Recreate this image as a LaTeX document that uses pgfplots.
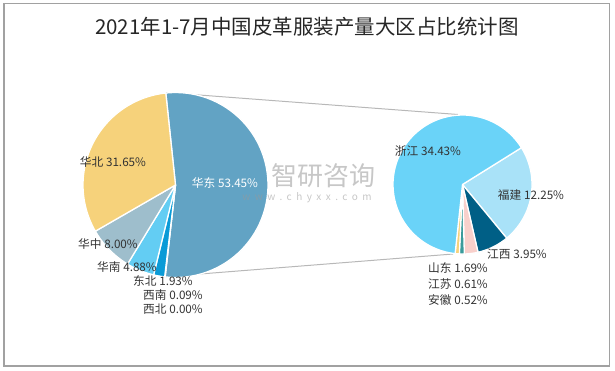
\documentclass[border=0pt]{standalone}
\usepackage{fontspec}
\setmainfont{Noto Sans CJK SC}
\usepackage{pgfplots}
\usepackage{pgfplotstable}
\pgfplotsset{compat=1.18}

\definecolor{cHD}{HTML}{62A3C4}
\definecolor{cXB}{HTML}{1F5F8B}
\definecolor{cXN}{HTML}{1F5F8B}
\definecolor{cDB}{HTML}{0A9BD7}
\definecolor{cHN}{HTML}{63CDF3}
\definecolor{cHZ}{HTML}{9EBECC}
\definecolor{cHB}{HTML}{F6D27B}
\definecolor{cZJ}{HTML}{6AD3F8}
\definecolor{cFJ}{HTML}{A9E2F8}
\definecolor{cJX}{HTML}{005F86}
\definecolor{cSD}{HTML}{F8D0CB}
\definecolor{cJS}{HTML}{3A9B9B}
\definecolor{cAH}{HTML}{F6D27B}
\definecolor{txt}{HTML}{333333}

% left pie: share of each region (clockwise from 华东)
\pgfplotstableread{
pct col
53.45 cHD
0.00 cXB
0.09 cXN
1.93 cDB
4.88 cHN
8.00 cHZ
31.65 cHB
}\leftdata

% right pie: provinces of 华东 (clockwise from 福建)
\pgfplotstableread{
pct col
12.25 cFJ
3.95 cJX
1.69 cSD
0.61 cJS
0.52 cAH
34.43 cZJ
}\rightdata

% #1 table, #2 cx, #3 cy, #4 r, #5 start angle (clockwise from top), #6 total, #7 output macro
\newcommand\buildpie[7]{%
  \gdef\piecmds{}%
  \xdef\cum{#5}%
  \pgfplotstablegetrowsof{#1}%
  \pgfmathtruncatemacro\lastrow{\pgfplotsretval-1}%
  \foreach \i in {0,...,\lastrow}{%
    \pgfplotstablegetelem{\i}{pct}\of{#1}\let\pv\pgfplotsretval
    \pgfplotstablegetelem{\i}{col}\of{#1}\let\cv\pgfplotsretval
    \pgfmathsetmacro\span{\pv/#6*360}%
    \pgfmathsetmacro\aa{\cum-90}%
    \pgfmathsetmacro\bb{\cum-90+\span}%
    \pgfmathsetmacro\newcum{\cum+\span}%
    \xdef\cum{\newcum}%
    \ifdim\pv pt>0.001pt
      \xdef\piecmds{\unexpanded\expandafter{\piecmds}\noexpand\filldraw[fill=\cv,draw=white,line width=1.3pt,line join=round] (#2,#3) -- plot[domain=\aa:\bb,samples=60,variable=\noexpand\t] ({#2+#4*cos(\noexpand\t)},{#3+#4*sin(\noexpand\t)}) -- cycle;}%
    \fi
  }%
  \global\let#7\piecmds
}

\begin{document}
\begin{tikzpicture}
\buildpie{\leftdata}{175.5}{185}{92.5}{-6}{100}{\leftpie}
\buildpie{\rightdata}{462.5}{184.5}{69.5}{58}{53.45}{\rightpie}
\begin{axis}[
  x=1pt, y=1pt, xmin=0, xmax=615, ymin=0, ymax=370,
  y dir=reverse, hide axis, clip=false, scale only axis,
]
\path (0,0) rectangle (615,370);
\draw[color=black!37, line width=1.5pt] (4,3.5) rectangle (609.5,366);
\node[color=black!85, font=\fontsize{20.5}{22}\selectfont] at (307,27) {2021年1-7月中国皮革服装产量大区占比统计图};
% connector lines
\draw[color=black!28, line width=1pt] (166,92.5) -- (458,114.5);
\draw[color=black!28, line width=1pt] (162,277) -- (453,254);
\leftpie
\rightpie
% watermark
\node[color=black!40, opacity=0.55, font=\fontsize{26}{28}\selectfont] at (323,176) {智研咨询};
\node[color=black!40, opacity=0.55, font=\fontsize{10}{12}\selectfont\addfontfeature{LetterSpace=45}] at (307,198) {www.chyxx.com};
% labels
\begin{scope}[every node/.style={color=txt, font=\fontsize{11.7}{13}\selectfont, inner sep=0pt}]
\node at (113,162) {华北 31.65\%};
\node[color=white] at (225,183) {华东 53.45\%};
\node at (108,244) {华中 8.00\%};
\node at (127,267) {华南 4.88\%};
\node at (163,281) {东北 1.93\%};
\node at (173,295) {西南 0.09\%};
\node at (173,309) {西北 0.00\%};
\node at (428,151) {浙江 34.43\%};
\node at (531,195) {福建 12.25\%};
\node at (517,254) {江西 3.95\%};
\node at (458,268) {山东 1.69\%};
\node at (458,284) {江苏 0.61\%};
\node at (458,300) {安徽 0.52\%};
\end{scope}
\end{axis}
\end{tikzpicture}
\end{document}
